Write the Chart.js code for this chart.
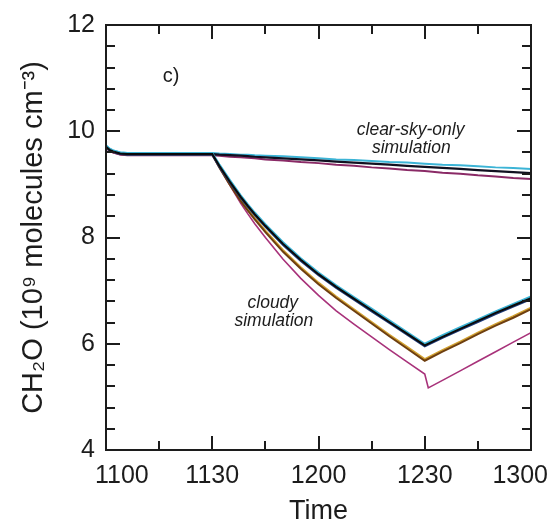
<!DOCTYPE html>
<html><head><meta charset="utf-8">
<script src="https://cdn.jsdelivr.net/npm/chart.js@4.4.0/dist/chart.umd.min.js"></script>
<style>html,body{margin:0;padding:0;background:#fff;}#wrap{width:555px;height:525px;}</style>
</head><body><div id="wrap"><canvas id="c" width="555" height="525"></canvas></div>
<script>
// time in minutes after 1100
const timeMin    = [0,1,2,4,6,10,20,30,32,35,38,40,42,45,50,55,60,65,70,75,80,85,90,95,100,105,110,115,120];
const timeMinDip = [0,1,2,4,6,10,20,30,32,35,38,40,42,45,50,55,60,65,70,75,80,85,90,91,95,100,105,110,115,120];
const xTickValues = [0,30,60,90,120];
const xTickLabels = ['1100','1130','1200','1230','1300'];

// clear-sky-only simulation
const clearCyan    = [9.73,9.67,9.64,9.60,9.59,9.59,9.59,9.59,9.58,9.57,9.56,9.56,9.55,9.54,9.53,9.51,9.49,9.47,9.46,9.44,9.42,9.41,9.39,9.37,9.36,9.34,9.32,9.31,9.29];
const clearBlack   = [9.71,9.65,9.62,9.58,9.57,9.57,9.57,9.57,9.56,9.55,9.54,9.53,9.52,9.51,9.49,9.47,9.45,9.43,9.41,9.39,9.37,9.35,9.33,9.31,9.29,9.27,9.25,9.23,9.21];
const clearMagenta = [9.69,9.63,9.60,9.56,9.55,9.55,9.55,9.55,9.54,9.52,9.51,9.50,9.49,9.47,9.45,9.42,9.40,9.37,9.35,9.32,9.30,9.27,9.25,9.22,9.20,9.17,9.15,9.12,9.10];

// cloudy simulation
const cloudyCyan    = [9.73,9.67,9.64,9.60,9.59,9.59,9.59,9.59,9.38,9.08,8.80,8.63,8.47,8.25,7.91,7.61,7.34,7.10,6.88,6.66,6.44,6.22,6.00,6.16,6.31,6.46,6.61,6.75,6.89];
const cloudyBlack   = [9.71,9.65,9.62,9.58,9.57,9.57,9.57,9.57,9.35,9.05,8.77,8.60,8.44,8.22,7.88,7.58,7.31,7.07,6.85,6.63,6.41,6.19,5.97,6.13,6.28,6.43,6.58,6.72,6.86];
const cloudyNavy    = [9.70,9.64,9.61,9.57,9.56,9.56,9.56,9.56,9.33,9.03,8.75,8.58,8.42,8.20,7.86,7.56,7.29,7.05,6.83,6.61,6.39,6.17,5.95,6.11,6.26,6.41,6.56,6.70,6.84];
const cloudyGold    = [9.71,9.65,9.62,9.58,9.57,9.57,9.57,9.57,9.34,9.02,8.72,8.54,8.37,8.13,7.76,7.44,7.15,6.89,6.65,6.41,6.17,5.94,5.71,5.88,6.04,6.21,6.37,6.52,6.68];
const cloudyBrown   = [9.70,9.64,9.61,9.57,9.56,9.56,9.56,9.56,9.32,8.99,8.69,8.51,8.34,8.10,7.73,7.41,7.12,6.86,6.62,6.38,6.14,5.91,5.68,5.85,6.01,6.18,6.34,6.49,6.65];
const cloudyMagenta = [9.69,9.63,9.60,9.56,9.55,9.55,9.55,9.55,9.32,8.98,8.65,8.45,8.26,8.00,7.59,7.23,6.91,6.62,6.37,6.13,5.89,5.66,5.43,5.17,5.31,5.49,5.67,5.85,6.03,6.21];

const notes = [
  {text:'c)', t:18.4, v:11.04, italic:false, size:20},
  {text:'clear-sky-only', t:86, v:10.02, italic:true, size:17.5},
  {text:'simulation', t:86.2, v:9.69, italic:true, size:17.5},
  {text:'cloudy', t:47.1, v:6.77, italic:true, size:17.5},
  {text:'simulation', t:47.4, v:6.43, italic:true, size:17.5}
];

const FONT = "'Liberation Sans', Arial, Helvetica, sans-serif";
const INK = '#1c1c1c';
const TICK_FONT = '25px ' + FONT;

function pts(times, vals){ return vals.map((v,i)=>({x:times[i], y:v})); }
function ds(label, times, vals, color, w){
  return {label, data:pts(times,vals), borderColor:color, backgroundColor:color, borderWidth:w,
          pointRadius:0, tension:0, fill:false};
}

const datasets = [
  ds('cloudy black', timeMin, cloudyBlack, '#0a0a0a', 2),
  ds('cloudy cyan', timeMin, cloudyCyan, '#3cb4d6', 2),
  ds('cloudy navy', timeMin, cloudyNavy, '#1d3a78', 2),
  ds('cloudy brown', timeMin, cloudyBrown, '#6e3f10', 2),
  ds('cloudy gold', timeMin, cloudyGold, '#d0a030', 2),
  ds('cloudy magenta', timeMinDip, cloudyMagenta, '#a8327a', 1.6),
  ds('clear black', timeMin, clearBlack, '#101020', 2.2),
  ds('clear cyan', timeMin, clearCyan, '#3cb4d6', 2),
  ds('clear magenta', timeMin, clearMagenta, '#8a2a66', 2)
];

const framePlugin = {
  id:'frame',
  afterDatasetsDraw(chart){
    const {ctx, chartArea:a, scales:{x,y}} = chart;
    ctx.save();
    ctx.strokeStyle = INK; ctx.lineWidth = 2;
    ctx.strokeRect(a.left, a.top, a.right-a.left, a.bottom-a.top);
    ctx.beginPath();
    for (let v=15; v<120; v+=15){
      const px = Math.round(x.getPixelForValue(v));
      const L = (v%30===0) ? 14 : 9;
      ctx.moveTo(px, a.bottom); ctx.lineTo(px, a.bottom-L);
      ctx.moveTo(px, a.top); ctx.lineTo(px, a.top+L);
    }
    for (let k=1; k<20; k++){
      const v = 4 + k*0.4;
      const py = Math.round(y.getPixelForValue(v));
      const L = (k%5===0) ? 14 : 9;
      ctx.moveTo(a.left, py); ctx.lineTo(a.left+L, py);
      ctx.moveTo(a.right, py); ctx.lineTo(a.right-L, py);
    }
    ctx.stroke();
    ctx.fillStyle = INK; ctx.textAlign='center'; ctx.textBaseline='middle';
    notes.forEach(n=>{
      ctx.font = (n.italic?'italic ':'') + n.size + 'px ' + FONT;
      ctx.fillText(n.text, x.getPixelForValue(n.t), y.getPixelForValue(n.v));
    });
    // x tick labels: centred on ticks, kept inside the figure margins
    ctx.font = TICK_FONT; ctx.textAlign='left';
    const minLeft = a.left - 11, maxRight = a.right + 17;
    xTickValues.forEach((v,i)=>{
      const txt = xTickLabels[i];
      const w = ctx.measureText(txt).width;
      let left = x.getPixelForValue(v) - w/2;
      left = Math.max(minLeft, Math.min(maxRight - w, left));
      ctx.fillText(txt, left, a.bottom + 26);
    });
    ctx.restore();
  }
};

new Chart(document.getElementById('c'), {
  type:'line',
  data:{datasets},
  options:{
    responsive:false, animation:false, devicePixelRatio:1,
    layout:{padding:{left:0,right:24,top:25,bottom:0}},
    plugins:{legend:{display:false}, tooltip:{enabled:false}},
    scales:{
      x:{type:'linear', min:0, max:120,
         grid:{display:false, drawTicks:false}, border:{display:false},
         afterBuildTicks:(s)=>{ s.ticks = xTickValues.map(v=>({value:v})); },
         afterFit:(s)=>{ s.height = 75; s.paddingLeft = 0; s.paddingRight = 0; },
         ticks:{display:false, autoSkip:false, maxRotation:0},
         title:{display:true, text:'Time', color:INK, font:{family:FONT, size:27, lineHeight:1}, padding:{top:0,bottom:0}}
      },
      y:{type:'linear', min:4, max:12,
         grid:{display:false, drawTicks:false}, border:{display:false},
         afterFit:(s)=>{ s.width = 106; s.paddingTop = 0; s.paddingBottom = 0; },
         ticks:{stepSize:2, padding:11, color:INK, font:{family:FONT, size:25}},
         title:{display:true, text:'CH₂O (10⁹ molecules cm⁻³)', color:INK, font:{family:FONT, size:29, lineHeight:1}, padding:{top:19,bottom:0}}
      }
    }
  },
  plugins:[framePlugin]
});
</script></body></html>
